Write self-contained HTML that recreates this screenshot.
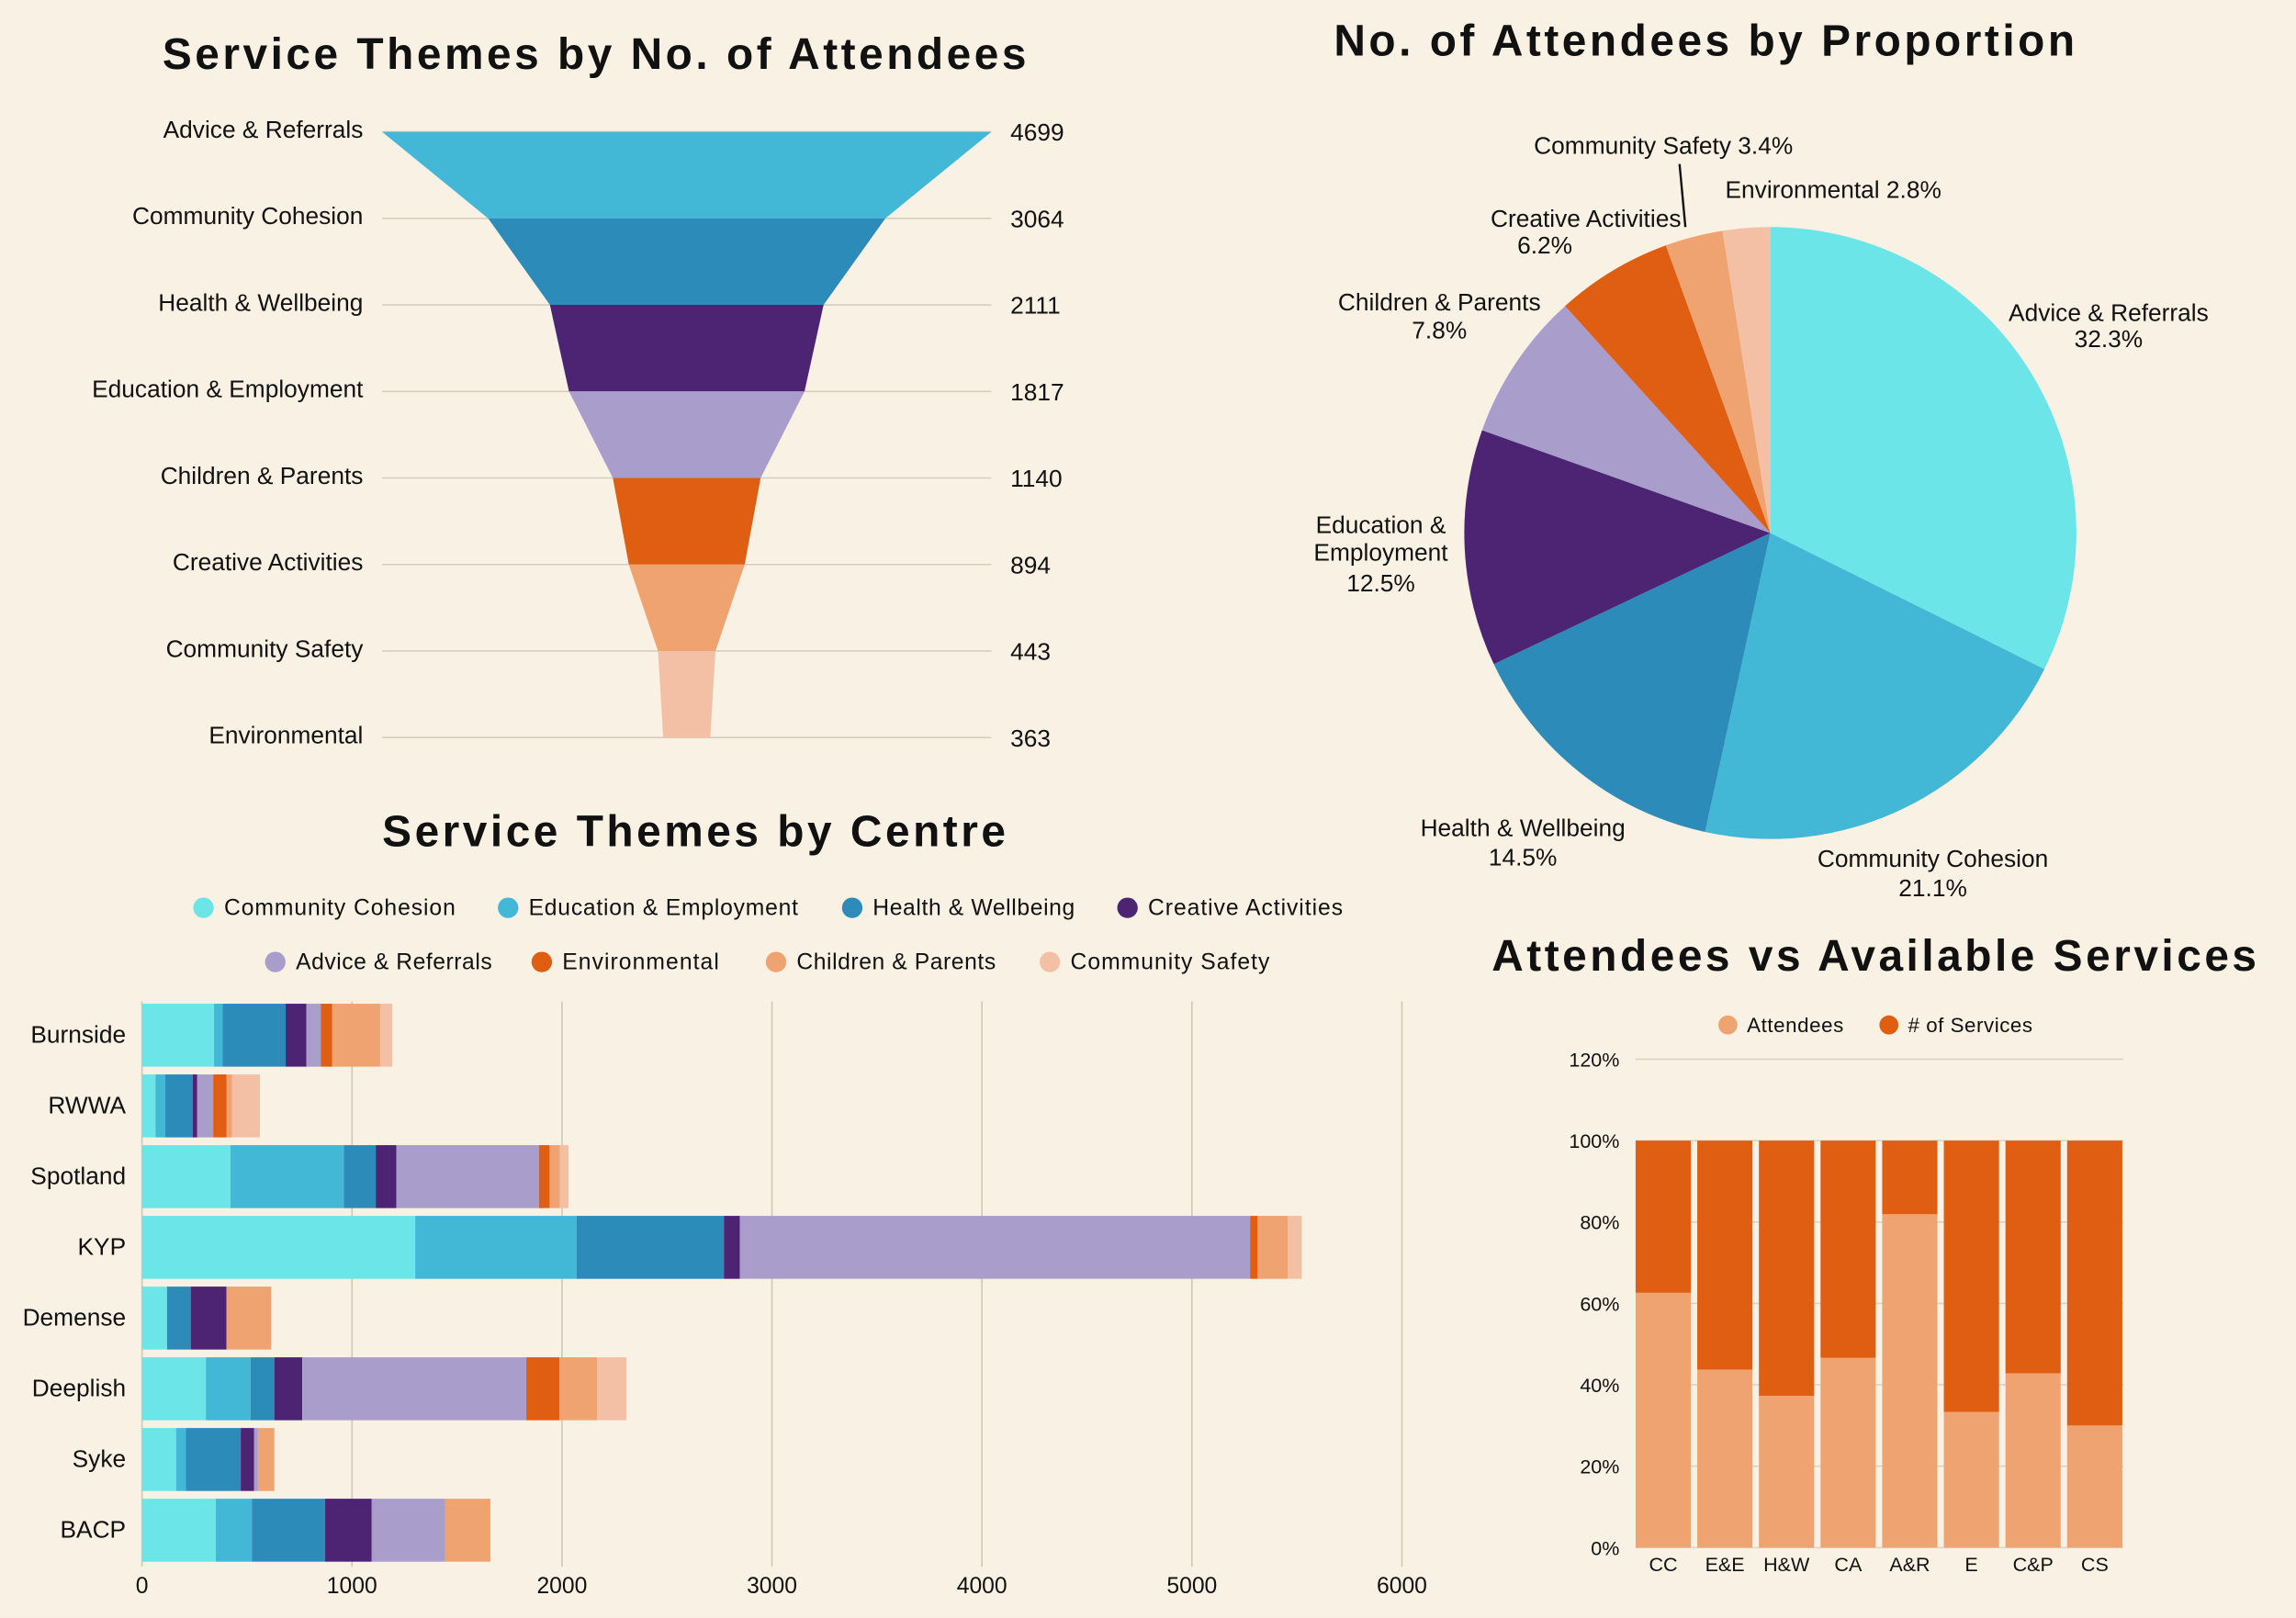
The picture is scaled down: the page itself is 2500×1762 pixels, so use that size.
<!DOCTYPE html>
<html><head><meta charset="utf-8"><style>
html,body{margin:0;padding:0;background:#f9f1e3;}
svg{display:block;font-family:"Liberation Sans",sans-serif;}
.t{font-weight:bold;font-size:30px;fill:#111;letter-spacing:2.2px;text-anchor:middle}
.l{font-size:16.5px;fill:#111}
.k{font-size:15.5px;fill:#111}
</style></head><body>
<svg id="root" width="2500" height="1762" viewBox="0 0 1568 1105" xmlns="http://www.w3.org/2000/svg">
<rect x="0" y="0" width="1568" height="1105" fill="#f9f1e3"/>
<text class="t" x="407" y="47">Service Themes by No. of Attendees</text>
<text class="t" x="1165" y="38">No. of Attendees by Proportion</text>
<text class="t" x="475" y="578">Service Themes by Centre</text>
<text class="t" x="1281" y="663">Attendees vs Available Services</text>
<g id="funnel"></g>
<g id="pie"></g>
<g id="bars"></g>
<g id="pct"></g>
</svg>
<script>
const NS="http://www.w3.org/2000/svg";
function mk(p,tag,at){const e=document.createElementNS(NS,tag);for(const k in at)e.setAttribute(k,at[k]);p.appendChild(e);return e;}

// ---------- Funnel data ----------
const funnelCats=["Advice & Referrals","Community Cohesion","Health & Wellbeing","Education & Employment","Children & Parents","Creative Activities","Community Safety","Environmental"];
const funnelVals=[4699,3064,2111,1817,1140,894,443,363];
const funnelColors=["#42b7d6","#2d8bb9","#4d2373","#a99dcb","#e05e12","#eea371","#f3c0a5"];

// ---------- Pie data ----------
const pieCats=["Advice & Referrals","Community Cohesion","Health & Wellbeing","Education & Employment","Children & Parents","Creative Activities","Community Safety","Environmental"];
const pieVals=[4699,3064,2111,1817,1140,894,443,363];
const pieColors=["#6be5e8","#42b7d6","#2d8bb9","#4d2373","#a99dcb","#e05e12","#eea371","#f3c0a5"];

// ---------- Stacked bar data ----------
const centres=["Burnside","RWWA","Spotland","KYP","Demense","Deeplish","Syke","BACP"];
const seriesNames=["Community Cohesion","Education & Employment","Health & Wellbeing","Creative Activities","Advice & Referrals","Environmental","Children & Parents","Community Safety"];
const sCC=[343,64,421,1301,119,304,162,351];
const sEE=[41,47,540,768,0,213,47,172];
const sHW=[300,131,152,702,113,113,261,349];
const sCA=[99,21,98,76,170,133,64,222];
const sAR=[68,76,679,2430,0,1067,18,349];
const sEN=[55,64,51,36,0,158,0,0];
const sCP=[228,25,49,144,213,179,78,216];
const sCS=[58,133,41,66,0,140,0,0];
const seriesColors=["#6be5e8","#42b7d6","#2d8bb9","#4d2373","#a99dcb","#e05e12","#eea371","#f3c0a5"];
const xTicks=[0,1000,2000,3000,4000,5000,6000];

// ---------- Percent bar data ----------
const pctCats=["CC","E&E","H&W","CA","A&R","E","C&P","CS"];
const pctAttendees=[62.6,43.7,37.3,46.6,81.9,33.3,42.8,30.0];
const pctTicks=[0,20,40,60,80,100,120];

// ===== Funnel =====
(function(){
const g=document.getElementById('funnel');
const cx=469,y0=90,step=59.1,half=208,maxV=funnelVals[0];
const w=v=>v/maxV*half;
funnelVals.forEach((v,i)=>{
  const top=y0+i*step;
  const ln=mk(g,'line',{x1:261,x2:677,y1:top,y2:top,stroke:"#d6cdbd","stroke-width":1});
  
  
});
funnelVals.forEach((v,i)=>{
  const top=y0+i*step,bot=top+step;
  if(i<funnelVals.length-1){
    const wt=w(v), wb=w(funnelVals[i+1]);
    const p=mk(g,'polygon',{points:`${cx-wt},${top} ${cx+wt},${top} ${cx+wb},${bot} ${cx-wb},${bot}`,fill:funnelColors[i]});
    
    
  }
  const t=mk(g,'text',{x:248,y:top+4,class:'l','text-anchor':'end'});t.textContent=funnelCats[i];
  
  
  const tv=mk(g,'text',{x:690,y:top+6,class:'l'});tv.textContent=funnelVals[i];
  
  
});
})();

// ===== Pie =====
(function(){
const g=document.getElementById('pie');
const cx=1209,cy=364,r=209;
const tot=pieVals.reduce((a,b)=>a+b,0);
let a=0;
pieVals.forEach((v,i)=>{
  const a1=a+v/tot*2*Math.PI;
  const x0=cx+r*Math.sin(a),y0=cy-r*Math.cos(a),x1=cx+r*Math.sin(a1),y1=cy-r*Math.cos(a1);
  const large=(a1-a)>Math.PI?1:0;
  const p=mk(g,'path',{d:`M${cx},${cy} L${x0},${y0} A${r},${r} 0 ${large} 1 ${x1},${y1} Z`,fill:pieColors[i]});
  
  
  a=a1;
});
const labs=[
 [["Advice & Referrals",1440,219],["32.3%",1440,237]],
 [["Community Cohesion",1320,592],["21.1%",1320,612]],
 [["Health & Wellbeing",1040,571],["14.5%",1040,591]],
 [["Education &",943,364],["Employment",943,383],["12.5%",943,404]],
 [["Children & Parents",983,212],["7.8%",983,231]],
 [["Creative Activities",1083,155],["6.2%",1055,173]],
 [["Community Safety 3.4%",1136,105]],
 [["Environmental 2.8%",1252,135]]
];
const lp=mk(g,'line',{x1:1147,y1:112,x2:1151,y2:155,stroke:"#111","stroke-width":1.5});


labs.forEach(arr=>arr.forEach(([s,x,y])=>{
  const t=mk(g,'text',{x:x,y:y,class:'l','text-anchor':'middle'});t.textContent=s;
  
  
}));
})();

// ===== Stacked bars =====
(function(){
const g=document.getElementById('bars');
const x0=97,pxPer=143.4/1000,yTop=683.5,band=48.3,bh=43;
const X=v=>x0+v*pxPer;
const series=[sCC,sEE,sHW,sCA,sAR,sEN,sCP,sCS];
xTicks.forEach(t=>{
  const ln=mk(g,'line',{x1:X(t),x2:X(t),y1:684,y2:1070,stroke:"#cfc6b6","stroke-width":1});
  
  
  const tx=mk(g,'text',{x:X(t),y:1088,class:'k','text-anchor':'middle'});tx.textContent=t;
  
  
});
centres.forEach((c,i)=>{
  const y=yTop+i*band+2;
  let acc=0;
  series.forEach((s,k)=>{
    const v=s[i]; if(v<=0)return;
    const r=mk(g,'rect',{x:X(acc),y:y,width:v*pxPer,height:bh,fill:seriesColors[k]});
    
    
    acc+=v;
  });
  const t=mk(g,'text',{x:86,y:y+bh/2+5,class:'l','text-anchor':'end'});t.textContent=c;
  
  
});
const legPos=[[139,620],[347,620],[582,620],[770,620],[188,657],[370,657],[530,657],[717,657]];
const legW=[158,184,138,133,134,107,136,136];
seriesNames.forEach((n,k)=>{
  const [lx,ly]=legPos[k];
  const c=mk(g,'circle',{cx:lx,cy:ly,r:7,fill:seriesColors[k]});
  
  
  const t=mk(g,'text',{x:lx+14,y:ly+5,class:'k',textLength:legW[k],lengthAdjust:'spacing'});t.textContent=n;
  
  
});
})();

// ===== Percent bars =====
(function(){
const g=document.getElementById('pct');
const y0=1057,pxPerPct=2.78,xL=1117,step=42.1,bw=37.7;
const Y=v=>y0-v*pxPerPct;
pctTicks.forEach(t=>{
  const ln=mk(g,'line',{x1:xL,x2:1450,y1:Y(t),y2:Y(t),stroke:"#ddd3c3","stroke-width":1});
  
  
  const tx=mk(g,'text',{x:1106,y:Y(t)+5,'font-size':13.5,fill:'#111','text-anchor':'end'});tx.textContent=t+'%';
  
  
});
pctCats.forEach((c,i)=>{
  const x=xL+i*step,a=pctAttendees[i];
  const r1=mk(g,'rect',{x:x,y:Y(100),width:bw,height:Y(a)-Y(100),fill:'#e05e12'});
  
  
  const r2=mk(g,'rect',{x:x,y:Y(a),width:bw,height:Y(0)-Y(a),fill:'#eea371'});
  
  
  const t=mk(g,'text',{x:x+bw/2,y:1073,'font-size':13.5,fill:'#111','text-anchor':'middle'});t.textContent=c;
  
  
});
[["Attendees",1180,"#eea371",66],["# of Services",1290,"#e05e12",85]].forEach(([n,x,col,wd])=>{
  const c=mk(g,'circle',{cx:x,cy:700,r:6.5,fill:col});
  
  
  const t=mk(g,'text',{x:x+13,y:705,'font-size':14,fill:'#111',textLength:wd,lengthAdjust:'spacing'});t.textContent=n;
  
  
});
})();
</script>
</body></html>
